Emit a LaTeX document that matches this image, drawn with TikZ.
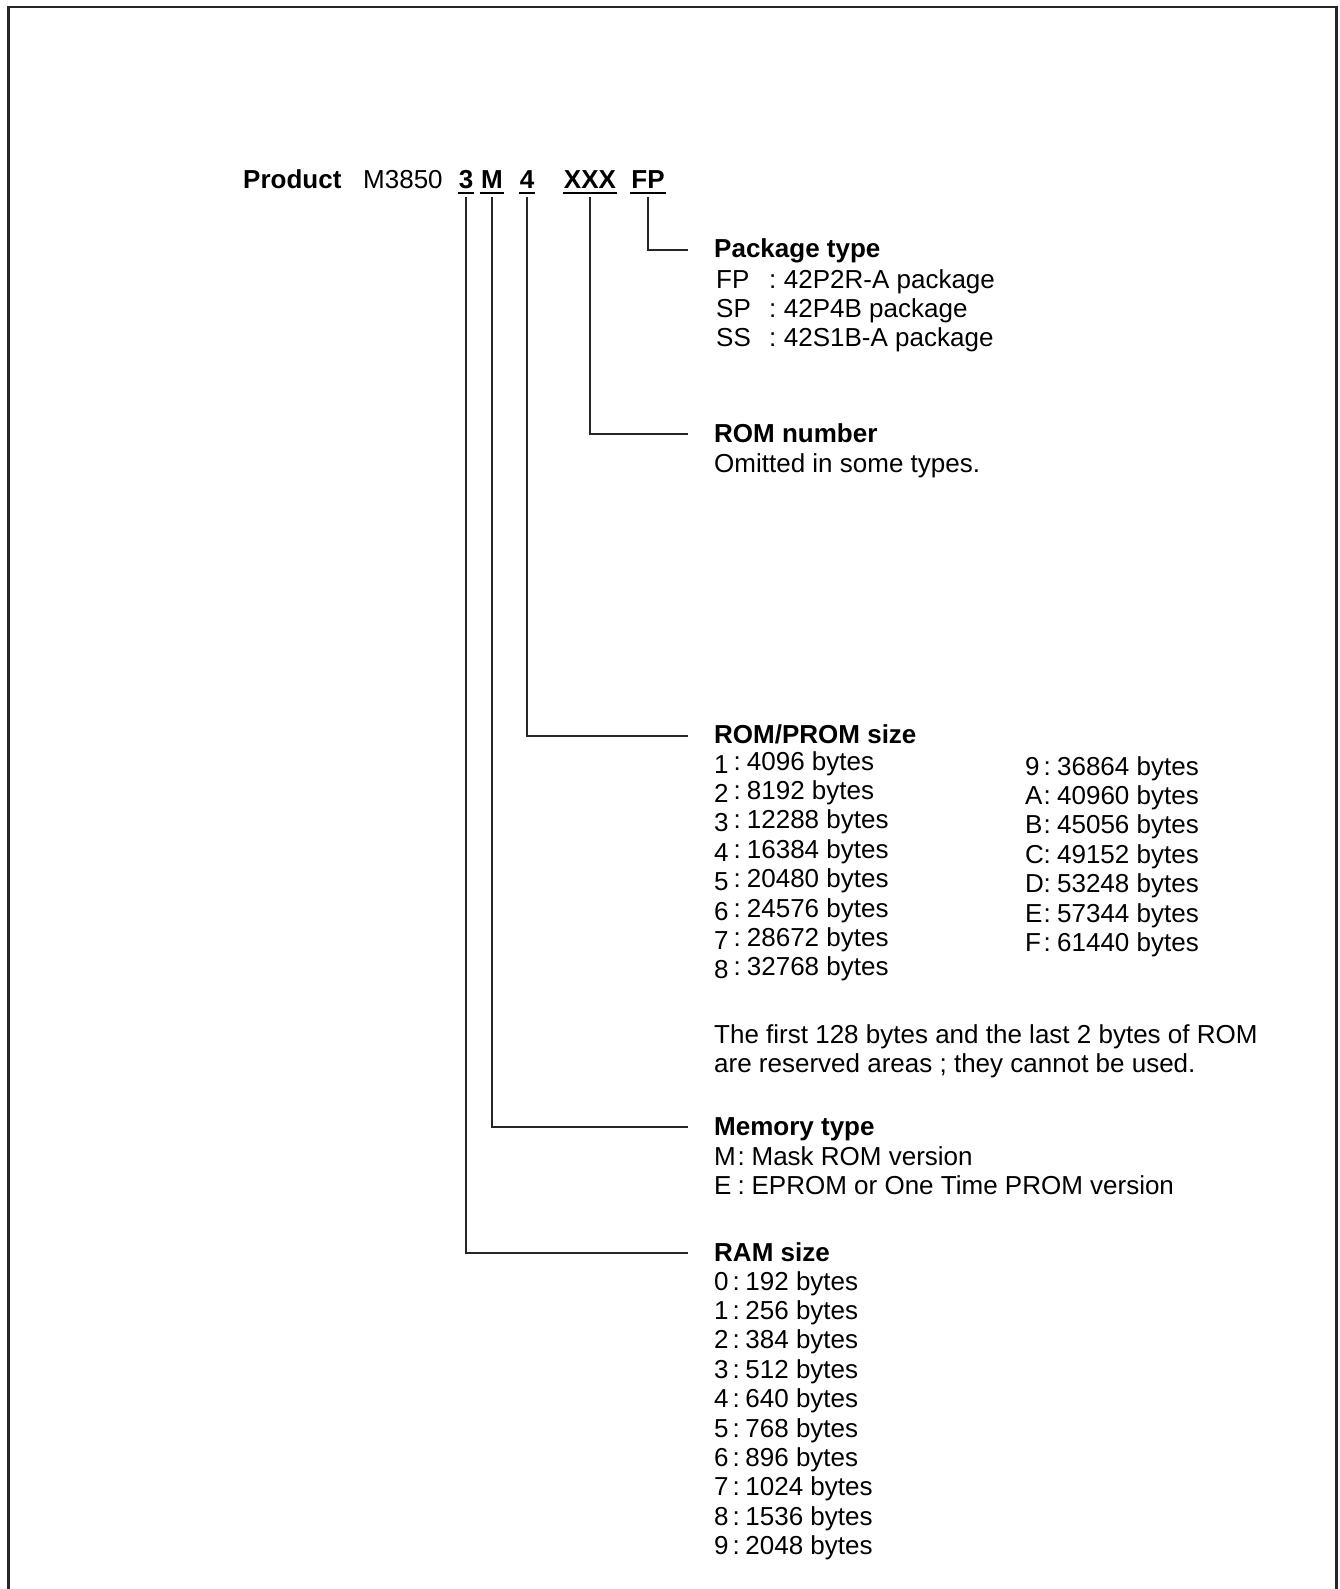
\documentclass[tikz,border=0pt]{standalone}
\usepackage{fontspec}
\setmainfont{Liberation Sans}
\usetikzlibrary{positioning}

\begin{document}
\begin{tikzpicture}[x = 1pt, y = -1pt,
		txt/.style = {inner sep = 0pt, font = \fontsize{26}{29.4}\selectfont, anchor = base west},
		head/.style = {txt, font = \fontsize{26}{29.4}\selectfont\bfseries},
		code/.style = {txt, font = \fontsize{26}{29.4}\selectfont\bfseries, anchor = base, inner xsep = 1pt},
		lead/.style = {black!85, line width = 1.3pt}]
	\useasboundingbox (0, 0) rectangle (1340, 1589);
	\draw [black!85, line width = 2.8pt] (8.5, 1600) -- (8.5, 7) -- (1336.5, 7) -- (1336.5, 1600);
	% product line
	\node [head] (prod) at (243, 189) {Product};
	\node [txt] (series) at (363, 189) {M3850};
	\node [code] (d3) at (466, 189) {3};
	\node [code] (dM) at (492, 189) {M};
	\node [code] (d4) at (527, 189) {4};
	\node [code] (dX) at (590, 189) {XXX};
	\node [code] (dFP) at (648, 189) {FP};
	\foreach \c in {d3, dM, d4, dX, dFP}
		\draw [black, line width = 1.8pt] ([yshift = -4pt]\c.base west) -- ([yshift = -4pt]\c.base east);
	% headings
	\node [head] (pkg) at (714, 258) {Package type};
	\node [head] (romno) at (714, 442) {ROM number};
	\node [head] (romsize) at (714, 743) {ROM/PROM size};
	\node [head] (memtype) at (714, 1135) {Memory type};
	\node [head] (ram) at (714, 1261) {RAM size};
	% leads
	\draw [lead] ([yshift = -8pt]dFP.base) |- ([xshift = -26pt, yshift = 8pt]pkg.base west);
	\draw [lead] ([yshift = -8pt]dX.base) |- ([xshift = -26pt, yshift = 8pt]romno.base west);
	\draw [lead] ([yshift = -8pt]d4.base) |- ([xshift = -26pt, yshift = 7pt]romsize.base west);
	\draw [lead] ([yshift = -8pt]dM.base) |- ([xshift = -26pt, yshift = 8pt]memtype.base west);
	\draw [lead] ([yshift = -8pt]d3.base) |- ([xshift = -26pt, yshift = 8pt]ram.base west);
	% package type
	\foreach \p/\v [count = \i from 0] in {FP/42P2R-A, SP/42P4B, SS/42S1B-A}
		\node [txt] (pkg\p) at (716, {288 + 29.4*\i}) {\makebox[53pt][l]{\p}:\hspace{7.5pt}\v\ package};
	\node [txt] (romnote) at (714, 472) {Omitted in some types.};
	% rom sizes
	\foreach \k/\v [count = \i from 0] in {1/4096, 2/8192, 3/12288, 4/16384, 5/20480, 6/24576, 7/28672, 8/32768}
		\node [txt] (rom\k) at (714, {770 + 29.4*\i}) {\makebox[19.5pt][l]{\raisebox{-3pt}{\k}}:\hspace{6pt}\v\ bytes};
	\foreach \k/\v [count = \i from 0] in {9/36864, A/40960, B/45056, C/49152, D/53248, E/57344, F/61440}
		\node [txt] (rom\k) at (1025, {775 + 29.4*\i}) {\makebox[18.5pt][l]{\k}:\hspace{6.2pt}\v\ bytes};
	\node [txt] (rsv1) at (714, 1043) {The first 128 bytes and the last 2 bytes of ROM};
	\node [txt] (rsv2) at (714, 1072.5) {are reserved areas ; they cannot be used.};
	% memory type
	\node [txt] (memM) at (714, 1165) {\makebox[23.5pt][l]{M}:\hspace{6.7pt}Mask ROM version};
	\node [txt] (memE) at (714, 1194.5) {\makebox[23.5pt][l]{E}:\hspace{6.7pt}EPROM or One Time PROM version};
	% ram sizes
	\foreach \k/\v [count = \i from 0] in {0/192, 1/256, 2/384, 3/512, 4/640, 5/768, 6/896, 7/1024, 8/1536, 9/2048}
		\node [txt] (ram\k) at (714, {1290 + 29.4*\i}) {\makebox[18.5pt][l]{\k}:\hspace{5.5pt}\v\ bytes};
\end{tikzpicture}
\end{document}
